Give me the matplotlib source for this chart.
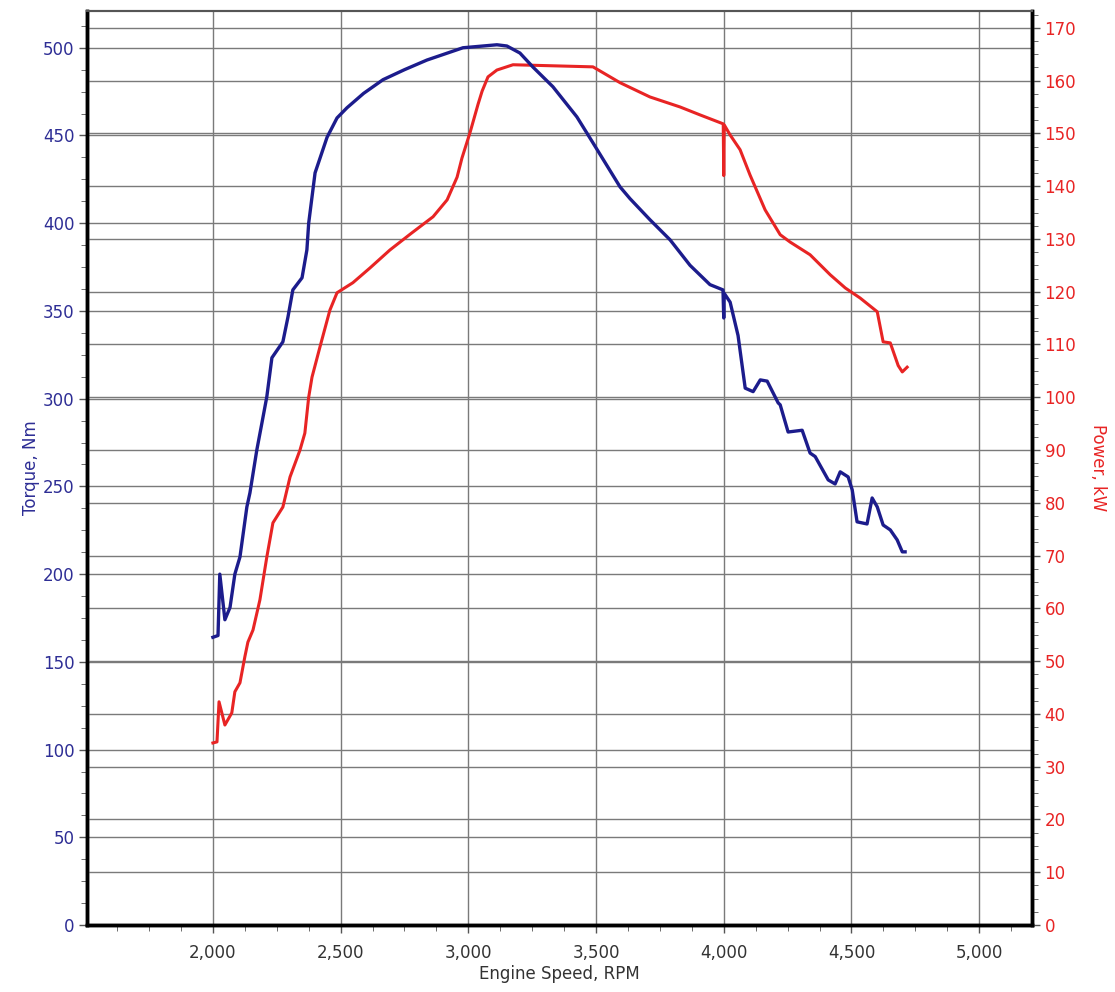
import matplotlib
matplotlib.use("Agg")
import matplotlib.pyplot as plt
from matplotlib.ticker import MultipleLocator, AutoMinorLocator, FuncFormatter

# torque curve (Nm) vs engine speed
rpm_t = [2000, 2020, 2027, 2047, 2067, 2086, 2106, 2133, 2145, 2172, 2192, 2211,
         2231, 2274, 2294, 2313, 2349, 2368, 2375, 2400, 2447, 2486, 2525, 2590,
         2666, 2750, 2838, 2979, 3112, 3151, 3202, 3253, 3331, 3425, 3488, 3594,
         3633, 3711, 3790, 3868, 3946, 3997, 4000, 4002, 4025, 4056, 4084, 4115,
         4143, 4170, 4213, 4221, 4252, 4307, 4338, 4358, 4409, 4436, 4456, 4487,
         4503, 4522, 4561, 4581, 4601, 4624, 4652, 4679, 4699, 4710]
torque = [164, 165, 200, 174, 181, 200, 209.8, 238.3, 246.3, 270.8, 286.2, 301,
          323.3, 332.4, 346.6, 362, 368.9, 384.8, 400, 428.7, 449, 460, 465.8, 474,
          481.8, 487.5, 493, 500, 501.7, 501, 497, 489, 477.8, 460.6, 445.8, 420.7,
          414, 402, 390.5, 376, 365, 362, 346, 360, 355, 336, 306, 304,
          310.7, 310, 297.6, 296.5, 281, 282, 269, 267, 253.7, 251.4, 258.3, 255.4,
          248, 229.8, 228.6, 243.4, 238.3, 228, 225.2, 219.5, 212.7, 212.7]

# power curve (kW)
rpm_p = [2000, 2016, 2024, 2047, 2074, 2086, 2106, 2125, 2137, 2157, 2184, 2211,
         2235, 2274, 2302, 2341, 2360, 2375, 2388, 2419, 2458, 2486, 2548, 2615,
         2693, 2775, 2862, 2917, 2956, 2975, 3007, 3038, 3054, 3077, 3112, 3175,
         3488, 3527, 3594, 3711, 3829, 3907, 3998, 4000, 4002, 4025, 4064, 4103,
         4162, 4221, 4260, 4338, 4417, 4476, 4534, 4601, 4624, 4652, 4683, 4699, 4718]
power = [34.5, 34.7, 42.3, 37.9, 40.2, 44.2, 45.9, 50.8, 53.6, 55.9, 61.6, 69.7,
         76.2, 79.2, 84.9, 90, 93.2, 100, 103.8, 109.5, 116.5, 119.8, 121.7, 124.5,
         127.9, 131, 134.2, 137.4, 141.7, 145.3, 150.2, 155.5, 158, 160.7, 162, 163,
         162.6, 161.5, 159.6, 156.9, 155, 153.5, 151.8, 142, 151.6, 149.7, 146.9, 142.1,
         135.5, 130.8, 129.4, 127, 123.2, 120.7, 118.8, 116.2, 110.5, 110.3, 106, 104.8, 105.7]

blue = "#1c1c8c"
red = "#e82424"
gridc = "#7a7a7a"

fig = plt.figure(figsize=(11.15, 9.92), dpi=100)
ax = fig.add_axes([0.078, 0.0675, 0.8476, 0.9215])
ax2 = ax.twinx()

ax.set_xlim(1507, 5207)
ax.set_ylim(0, 521)
ax2.set_ylim(0, 173.2)

ax.xaxis.set_major_locator(MultipleLocator(500))
ax.xaxis.set_minor_locator(AutoMinorLocator(4))
ax.xaxis.set_major_formatter(FuncFormatter(lambda v, p: f"{int(v):,}"))
ax.yaxis.set_major_locator(MultipleLocator(50))
ax.yaxis.set_minor_locator(AutoMinorLocator(4))
ax2.yaxis.set_major_locator(MultipleLocator(10))
ax2.yaxis.set_minor_locator(AutoMinorLocator(4))

ax.grid(True, which="major", color=gridc, lw=1.0)
ax2.grid(True, which="major", axis="y", color=gridc, lw=1.0)

ax2.plot(rpm_p, power, color=red, lw=2.2, zorder=3)
ax2.plot(rpm_t, torque, color=blue, lw=2.4, zorder=4, transform=ax.transData)

ax.tick_params(axis="x", which="major", length=6, width=1, color="#555555",
               labelsize=12, labelcolor="#333333", pad=8)
ax.tick_params(axis="x", which="minor", length=4, color="#555555")
ax.tick_params(axis="y", which="major", length=6, width=1, color="#555555",
               labelsize=12, labelcolor="#2e2e95", pad=3)
ax.tick_params(axis="y", which="minor", length=4, color="#555555")
ax2.tick_params(axis="y", which="major", length=6, width=1, color="#555555",
                labelsize=12, labelcolor=red, pad=3)
ax2.tick_params(axis="y", which="minor", length=4, color="#555555")

for a in (ax, ax2):
    for s in ("left", "bottom", "right"):
        a.spines[s].set_linewidth(2.5)
        a.spines[s].set_color("black")
    a.spines["top"].set_linewidth(1.5)
    a.spines["top"].set_color("#555555")

ax.set_xlabel("Engine Speed, RPM", fontsize=12, color="#333333", labelpad=2)
ax.set_ylabel("Torque, Nm", fontsize=12, color="#2e2e95", labelpad=2)
ax2.set_ylabel("Power, kW", fontsize=12, color=red, rotation=270, labelpad=22)

fig.savefig("out.png", dpi=100)
